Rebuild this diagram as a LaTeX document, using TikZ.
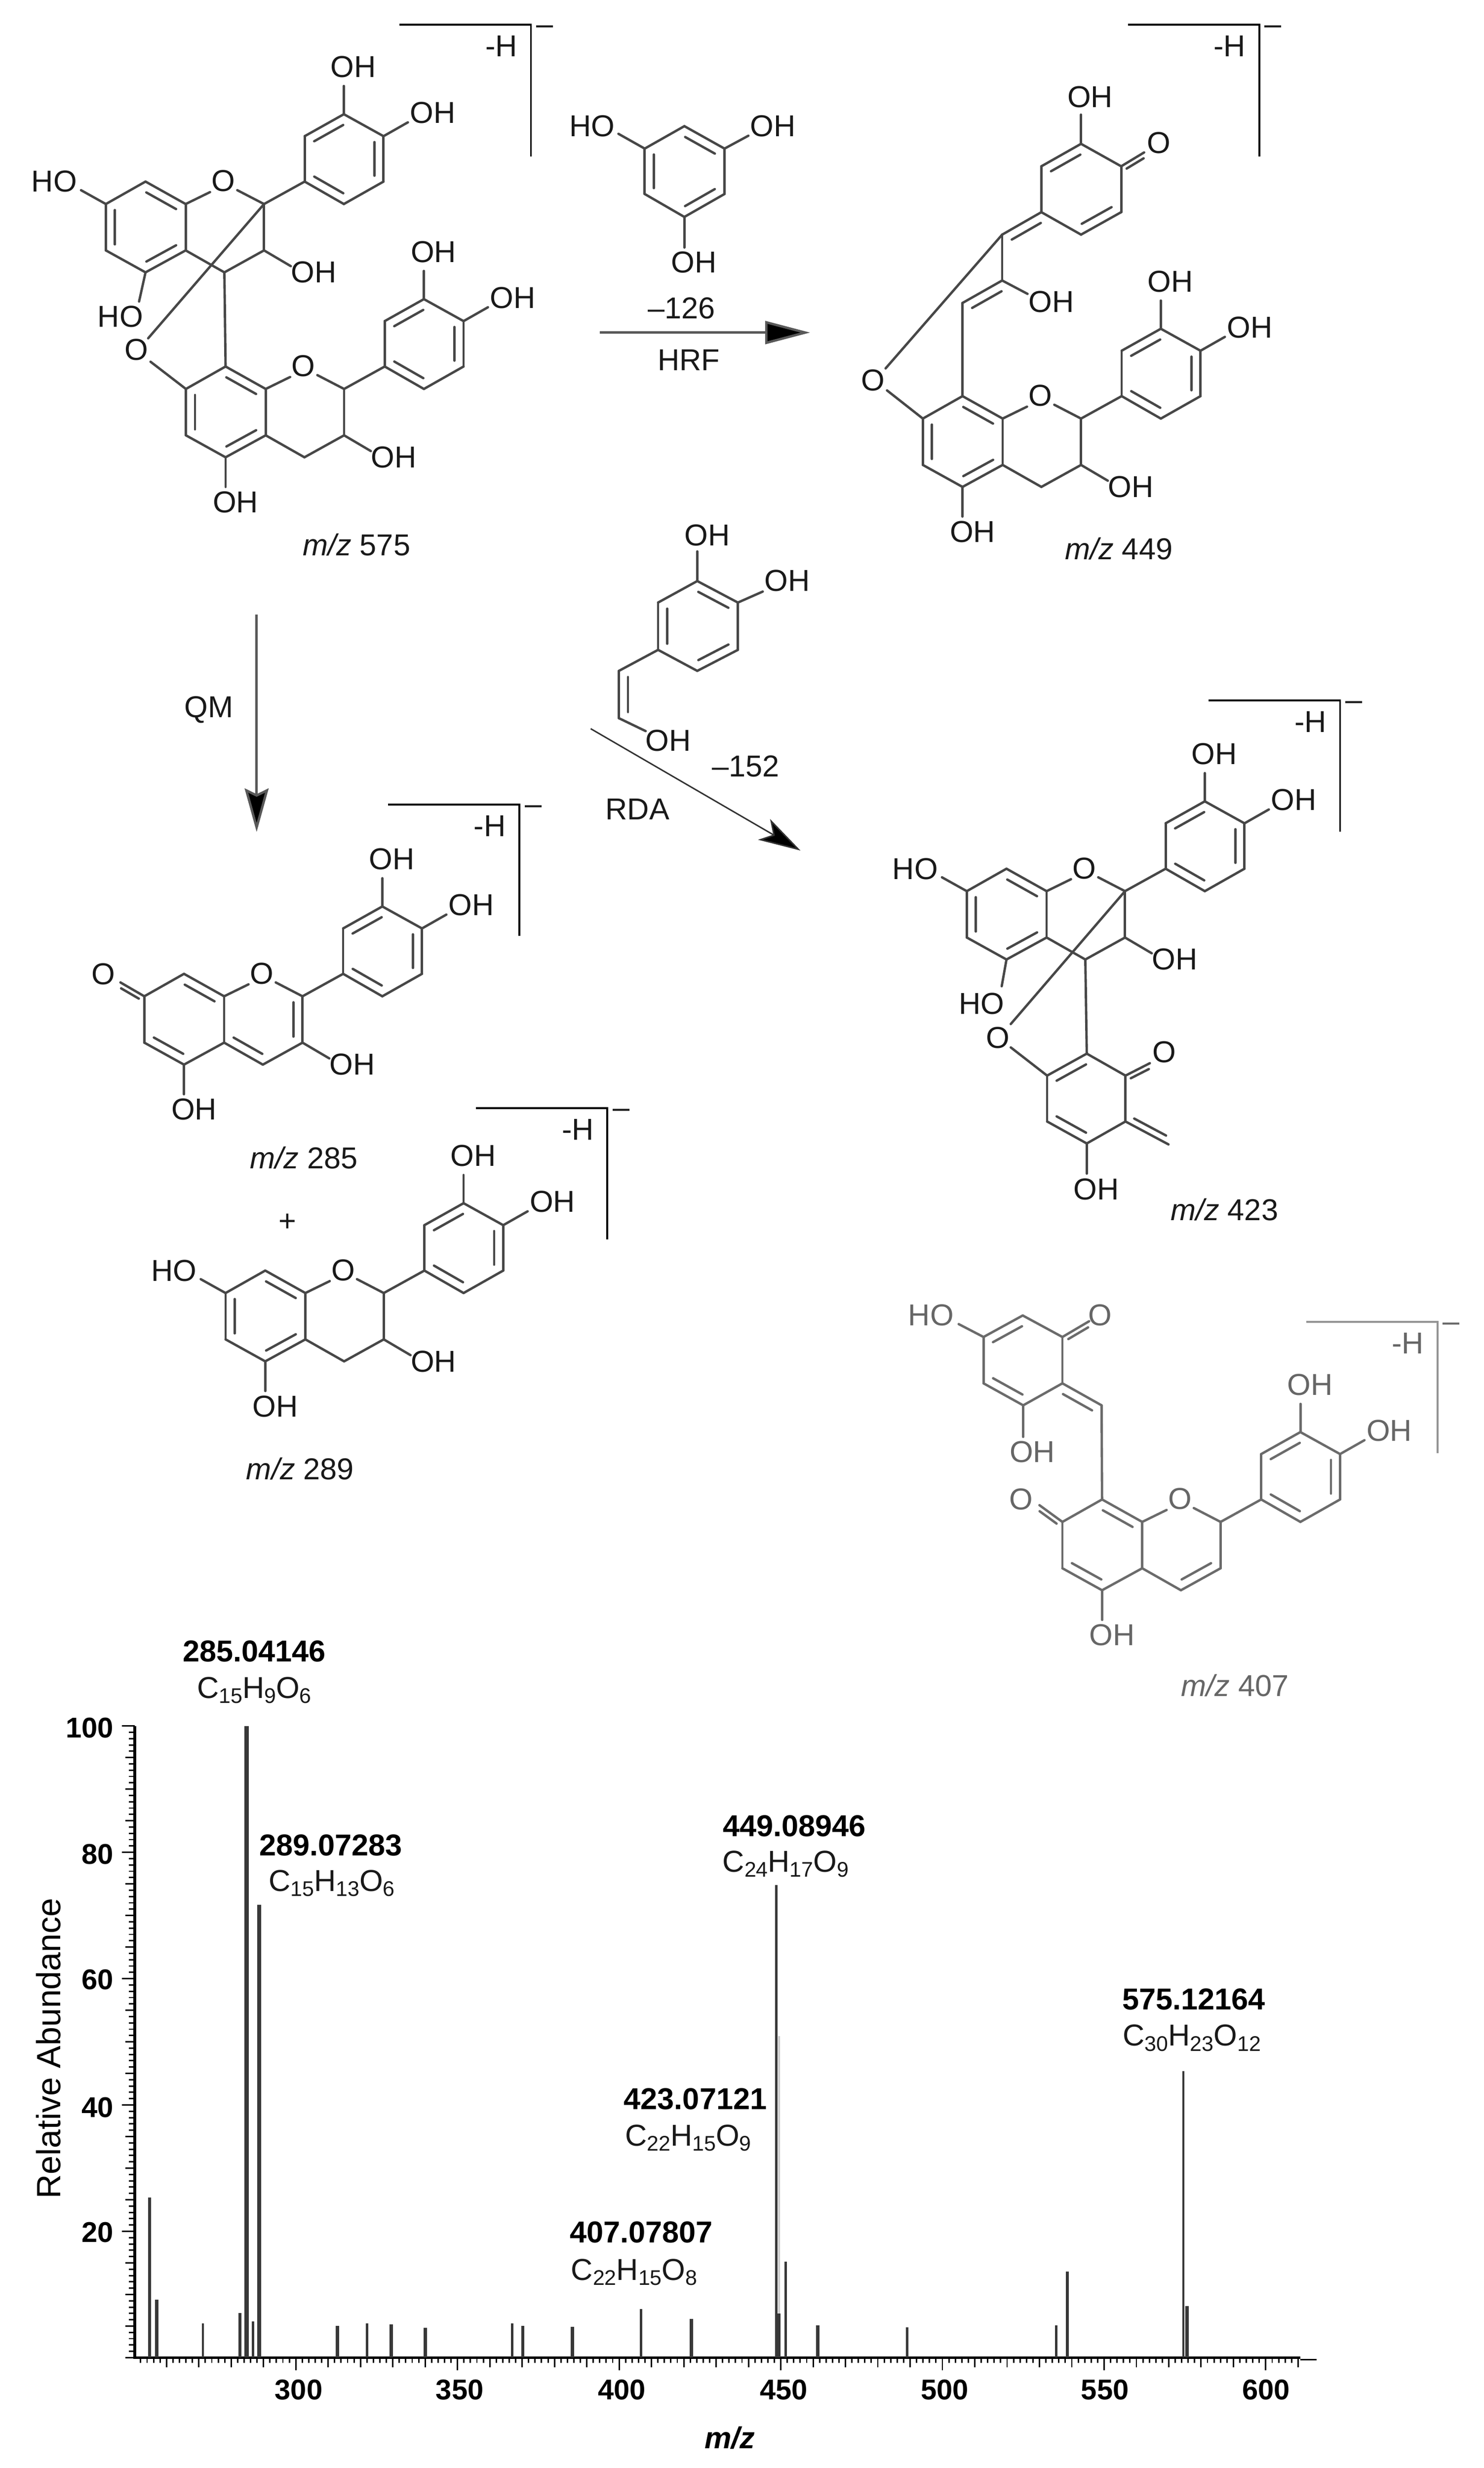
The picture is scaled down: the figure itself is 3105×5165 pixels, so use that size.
\documentclass[tikz,border=0pt]{standalone}
\usepackage{fontspec}
\setmainfont{Liberation Sans}
\usetikzlibrary{calc,arrows.meta}

\tikzset{
    bond/.style={draw=black!72, line width=.05cm, line cap=round},
    atom/.style={font=\fontsize{18}{20}\selectfont, inner sep=0pt, text=black!90},
    brack/.style={draw=black, line width=.04cm},
    rxn/.style={draw=black!65, line width=.05cm},
    axisline/.style={draw=black, line width=.055cm},
    ticks/.style={draw=black, line width=.03cm},
    peak/.style={draw=black!78},
    mass/.style={font=\fontsize{18}{20}\selectfont\bfseries, inner sep=0pt},
    formula/.style={font=\fontsize{18}{20}\selectfont, inner sep=0pt, text=black!90},
    scale label/.style={font=\fontsize{17}{20}\selectfont\bfseries, inner sep=0pt}
}

\newcommand{\fsub}[1]{\raisebox{-0.32ex}{\fontsize{12.6}{13}\selectfont #1}}
\newcommand{\atoms}[2]{\foreach \n/\x/\y in {#2} {\coordinate (#1\n) at (\x,\y);}}
\newcommand{\bonds}[2]{\foreach \pa/\pb in {#2} {\draw[bond] (#1\pa) -- (#1\pb);}}
% inner line sits on the right of a->b
\newcommand{\dbonds}[3][19]{\foreach \pa/\pb in {#3} {\draw[bond] ($(#2\pa)!.13!(#2\pb)!#1*0.01cm!-90:(#2\pb)$) -- ($(#2\pb)!.13!(#2\pa)!#1*0.01cm!90:(#2\pa)$);}}
\newcommand{\labels}[2]{\foreach \n/\x/\y/\txt in {#2} {\node[atom] (#1\n) at (\x,\y) {\txt};}}
\newcommand{\ionbracket}[3]{
    \coordinate (#1a) at (#2-275,#3);
    \coordinate (#1c) at (#2,#3);
    \coordinate (#1b) at (#2,#3+275);
    \draw[brack] (#1a) -- (#1c) -- (#1b);
    \node[atom] (#1h) at (#2-62,#3+45) {-H};
    \node[atom] (#1m) at (#2+29,#3+11) {--};
}
% chromane unit with its catechol ring, origin at the top of ring A
\newcommand{\flavan}[3]{
    \begin{scope}[shift={(#2,#3)}]
        \atoms{#1}{r1/0/0,r2/84/47,r3/84/144,r4/0/190,r5/-83/144,r6/-83/47,
            oa/135/22,ob/192/18,c2/248/47,c3/248/144,c4/165/190,
            s1/415/-141,s2/498/-95,s3/498/0,s4/415/47,s5/333/0,s6/333/-95,
            e1/415/-200,e2/549/-124}
        \bonds{#1}{r1/r2,r2/r3,r3/r4,r4/r5,r5/r6,r6/r1,r2/oa,ob/c2,c2/c3,c3/c4,c4/r3,
            c2/s5,s1/s2,s2/s3,s3/s4,s4/s5,s5/s6,s6/s1,s1/e1,s2/e2}
        \dbonds{#1}{s6/s1,s2/s3,s4/s5}
        \labels{#1}{ox/163/-1/O,oh1/435/-240/OH,oh2/601/-144/OH}
    \end{scope}
}
\newcommand{\cthreeoh}[1]{
    \coordinate (#1e3) at ($(#1c3)+(56,33)$);
    \draw[bond] (#1c3) -- (#1e3);
    \node[atom] (#1oh3) at ($(#1c3)+(104,46)$) {OH};
}
\newcommand{\afouroh}[1]{
    \coordinate (#1e4) at ($(#1r4)+(0,62)$);
    \draw[bond] (#1r4) -- (#1e4);
    \node[atom] (#1oh4) at ($(#1r4)+(21,94)$) {OH};
}
\newcommand{\rsixho}[1]{
    \coordinate (#1e6) at ($(#1r6)+(-52,-29)$);
    \draw[bond] (#1r6) -- (#1e6);
    \node[atom] (#1ho6) at ($(#1r6)+(-108,-47)$) {HO};
}

\begin{document}
\begin{tikzpicture}[x=0.01cm, y=-0.01cm]
    \useasboundingbox (0,0) rectangle (3105,5165);

    % m/z 575
    \flavan{p}{304.5}{380}
    \flavan{q}{472}{767}
    \dbonds{p}{r1/r2,r3/r4,r5/r6}
    \dbonds{q}{r1/r2,r3/r4,r5/r6}
    \cthreeoh{p} \cthreeoh{q} \afouroh{q} \rsixho{p}
    \atoms{t}{a/291/631,b/310/708,d/315/757}
    \labels{t}{ho/252/663/HO,o/285/732/O}
    \draw[bond] (pr4) -- (ta);
    \draw[bond] (pc2) -- (tb);
    \draw[bond] (td) -- (qr6);
    \draw[bond] (pc4) -- (qr1);
    \node[atom] (mz575) at (746,1140) {\textit{m/z} 575};
    \ionbracket{ba}{1111}{52}

    % loss of 126
    \atoms{h}{1/1432/264,2/1516/311,3/1516/406,4/1432/454,5/1349/406,6/1349/311,
        x/1294/280,y/1566/284,z/1432/518}
    \bonds{h}{1/2,2/3,3/4,4/5,5/6,6/1,6/x,2/y,4/z}
    \dbonds{h}{1/2,3/4,5/6}
    \labels{h}{ho/1239/264/HO,oa/1617/264/OH,ob/1452/549/OH}
    \coordinate (hrfa) at (1255,696);
    \coordinate (hrfb) at (1695,696);
    \draw[rxn, -{Triangle[length=.94cm,width=.48cm,fill=black]}] (hrfa) -- (hrfb);
    \node[atom] (lossa) at (1426,645) {--126};
    \node[atom] (hrf) at (1441,753) {HRF};

    % m/z 449
    \flavan{k}{2014}{829}
    \dbonds{k}{r1/r2,r3/r4,r5/r6}
    \cthreeoh{k} \afouroh{k}
    \atoms{u}{1/2262/301,2/2346/348,3/2346/444,4/2262/491,5/2179/444,6/2179/348,
        v1/2097/491,v2/2097/587,v3/2014/634,
        a/2262/240,b/2394/319,c/2150/615,d/1853/771,f/1856/817}
    \bonds{u}{1/2,2/3,3/4,4/5,5/6,6/1,5/v1,v1/v2,v2/v3,1/a,2/b,v2/c,v1/d}
    \dbonds{u}{6/1,3/4,v1/5,v3/v2}
    \dbonds[10]{u}{2/b}
    \draw[bond] (uv3) -- (kr1);
    \draw[bond] (uf) -- (kr6);
    \labels{u}{oh/2281/203/OH,o/2425/299/O,oh2/2200/632/OH,ox/1827/796/O}
    \node[atom] (mz449) at (2341,1148) {\textit{m/z} 449};
    \ionbracket{bb}{2635}{52}

    % loss of 152
    \atoms{w}{1/1459/1216,2/1544/1261,3/1544/1360,4/1459/1404,5/1377/1360,6/1377/1261,
        x1/1295/1404,x2/1295/1503,a/1459/1154,b/1596/1238,c/1351/1530}
    \bonds{w}{1/2,2/3,3/4,4/5,5/6,6/1,5/x1,x1/x2,1/a,2/b,x2/c}
    \dbonds{w}{1/2,3/4,5/6,x2/x1}
    \labels{w}{oa/1480/1120/OH,ob/1647/1215/OH,oc/1398/1550/OH}
    \coordinate (rdaa) at (1236,1525);
    \coordinate (rdab) at (1675,1780);
    \draw[rxn, draw=black!80, line width=.03cm, -{Stealth[length=.88cm,width=.5cm,inset=.22cm,fill=black]}] (rdaa) -- (rdab);
    \node[atom] (lossb) at (1560,1604) {--152};
    \node[atom] (rda) at (1334,1693) {RDA};

    % m/z 423
    \flavan{n}{2106}{1818}
    \dbonds{n}{r1/r2,r3/r4,r5/r6}
    \cthreeoh{n} \rsixho{n}
    \atoms{z}{1/2274/2205,2/2355/2251,3/2355/2347,4/2274/2393,5/2191/2347,6/2191/2251,
        a/2406/2225,b/2445/2395,c/2274/2456,d/2115/2143,f/2115/2192,g/2096/2064}
    \bonds{z}{1/2,2/3,3/4,4/5,5/6,6/1,2/a,3/b,4/c,f/6}
    \dbonds{z}{6/1,4/5}
    \dbonds[10]{z}{2/a}
    \dbonds[14]{z}{b/3}
    \draw[bond] (nc4) -- (z1);
    \draw[bond] (nc2) -- (zd);
    \draw[bond] (nr4) -- (zg);
    \labels{z}{ho/2054/2100/HO,ox/2088/2172/O,o/2436/2202/O,oh/2294/2489/OH}
    \node[atom] (mz423) at (2562,2531) {\textit{m/z} 423};
    \ionbracket{bc}{2804}{1466}

    % QM route
    \coordinate (qma) at (537,1286);
    \coordinate (qmb) at (537,1741);
    \draw[rxn, -{Stealth[length=.91cm,width=.5cm,inset=.12cm,fill=black]}] (qma) -- (qmb);
    \node[atom] (qm) at (437,1485) {QM};

    % m/z 285
    \flavan{f}{385}{2038}
    \dbonds{f}{r1/r2,r4/r5,c2/c3,c4/r3}
    \cthreeoh{f} \afouroh{f}
    \atoms{f}{end/252/2056}
    \draw[bond] (fr6) -- (fend);
    \dbonds[10]{f}{end/r6}
    \node[atom] (fo) at (216,2038) {O};
    \node[atom] (mz285) at (636,2423) {\textit{m/z} 285};
    \ionbracket{bd}{1087}{1684}
    \node[atom] (plus) at (602,2559) {+};

    % m/z 289
    \flavan{g}{555}{2659}
    \dbonds{g}{r1/r2,r3/r4,r5/r6}
    \cthreeoh{g} \afouroh{g} \rsixho{g}
    \node[atom] (mz289) at (628,3074) {\textit{m/z} 289};
    \ionbracket{be}{1271}{2319}

    % m/z 407, printed in grey
    \begin{scope}[bond/.append style={draw=black!58}, atom/.append style={text=black!60},
            brack/.append style={draw=black!42}]
        \flavan{j}{2306}{3138}
        \dbonds{j}{r1/r2,r4/r5,c3/c4}
        \afouroh{j}
        \atoms{y}{1/2140/2753,2/2223/2798,3/2223/2895,4/2141/2941,5/2058/2895,6/2058/2798,
            w/2305/2941,a/2279/2765,b/2141/3007,c/2006/2771,d/2175/3150,e/2223/3185}
        \bonds{y}{1/2,2/3,3/4,4/5,5/6,6/1,3/w,2/a,4/b,6/c,e/d}
        \dbonds{y}{6/1,4/5,3/w}
        \dbonds[10]{y}{2/a,d/e}
        \draw[bond] (yw) -- (jr1);
        \labels{y}{ho/1948/2752/HO,oa/2302/2752/O,oh/2160/3038/OH,ob/2137/3138/O}
        \node[atom] (mz407) at (2584,3527) {\textit{m/z} 407};
        \ionbracket{bf}{3008}{2766}
    \end{scope}

    % spectrum axes
    \draw[axisline] (282,3612) -- (282,4934) -- (2721,4934);
    \draw[ticks] (2721,4938) -- (2755,4938);
    \foreach \v in {0,1,...,100} {\draw[ticks] (282,{4934-\v*13.22}) -- ++(-12,0);}
    \foreach \v in {0,5,...,100} {\draw[ticks] (282,{4934-\v*13.22}) -- ++(-20,0);}
    \foreach \v in {20,40,...,100} {\draw[ticks] (282,{4934-\v*13.22}) -- ++(-27,0);}
    \foreach \m in {252,254,...,610} {\draw[ticks] ({619+(\m-300)*6.765},4934) -- ++(0,11);}
    \foreach \m in {260,270,...,610} {\draw[ticks] ({619+(\m-300)*6.765},4934) -- ++(0,20);}
    \foreach \m in {300,350,...,600} {\draw[ticks] ({619+(\m-300)*6.765},4934) -- ++(0,26);}

    % peaks
    \draw[peak, draw=black!20, line width=.05cm] (1630,4934) -- (1630,4261);
    \foreach \x/\y/\w in {313/4599/7,328/4813/7,425/4862/4,502/4841/7,516/3612/10,529/4858/5,
        542/3986/8,706/4867/7,768/4862/5,819/4864/7,890/4872/7,1072/4862/5,1094/4867/7,
        1198/4870/7,1341/4832/5,1447/4853/7,1624/3945/5,1630/4842/7,1644/4733/5,1711/4866/7,
        1898/4871/5,2210/4866/5,2233/4754/6,2476/4334/5,2484/4826/7}
        {\draw[peak, line width=\w*0.01cm] (\x,4934) -- (\x,\y);}

    % axis numbers
    \foreach \v/\y in {100/3616,80/3880,60/4143,40/4410,20/4672}
        {\node[scale label, anchor=east] (y\v) at (238,\y) {\v};}
    \foreach \m/\x in {300/625,350/962,400/1301,450/1640,500/1977,550/2312,600/2649}
        {\node[scale label] (x\m) at (\x,5001) {\m};}
    \node[font=\fontsize{20}{22}\selectfont, inner sep=0pt, rotate=90] (ylab) at (101,4287) {Relative Abundance};
    \node[mass, font=\fontsize{18}{20}\selectfont\bfseries\itshape] (xlab) at (1527,5102) {m/z};

    % peak annotations
    \foreach \n/\x/\y/\txt in {a/532/3456/285.04146,b/692/3862/289.07283,c/1342/4672/407.07807,
        d/1455/4393/423.07121,e/1662/3821/449.08946,f/2498/4184/575.12164}
        {\node[mass] (mass\n) at (\x,\y) {\txt};}
    \foreach \n/\x/\y/\txt in {a/532/3537/{C\fsub{15}H\fsub{9}O\fsub{6}},
        b/694/3941/{C\fsub{15}H\fsub{13}O\fsub{6}},
        c/1327/4755/{C\fsub{22}H\fsub{15}O\fsub{8}},
        d/1440/4474/{C\fsub{22}H\fsub{15}O\fsub{9}},
        e/1644/3901/{C\fsub{24}H\fsub{17}O\fsub{9}},
        f/2494/4265/{C\fsub{30}H\fsub{23}O\fsub{12}}}
        {\node[formula] (form\n) at (\x,\y) {\txt};}
\end{tikzpicture}
\end{document}
